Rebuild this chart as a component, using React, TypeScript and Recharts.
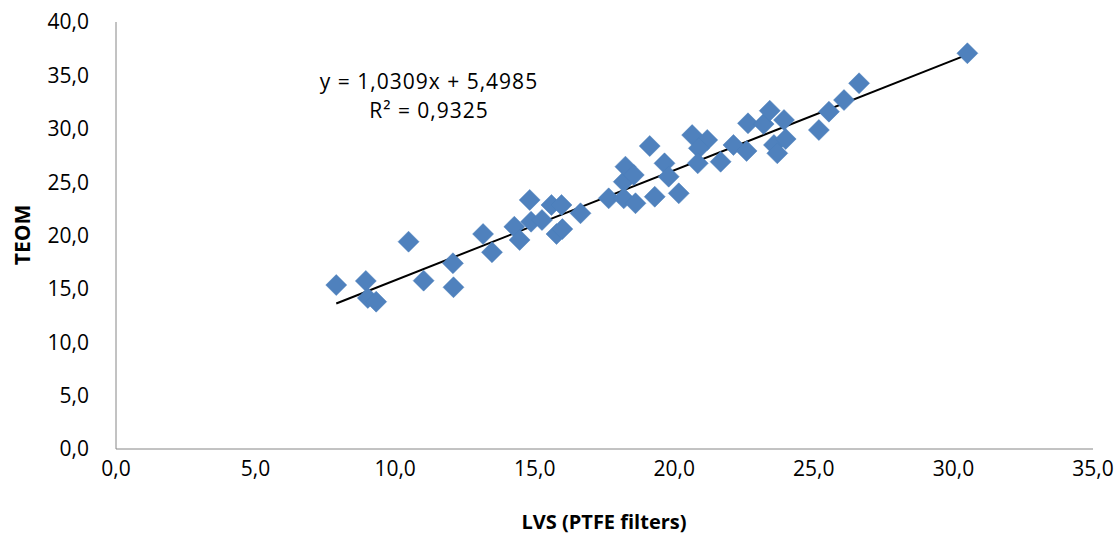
import {
  ScatterChart,
  Scatter,
  XAxis,
  YAxis,
  ReferenceLine,
} from "recharts";

// LVS (PTFE filters) vs TEOM
const lvs = [
  7.89, 8.95, 9.02, 9.32, 10.48, 11.02, 12.07, 12.09, 13.15, 13.47,
  14.27, 14.46, 14.82, 14.87, 15.26, 15.6, 15.96, 15.78, 15.99, 16.64,
  17.65, 18.19, 18.25, 18.55, 18.19, 18.61, 19.12, 19.3, 19.65, 19.8,
  20.16, 20.64, 21.18, 20.88, 20.84, 21.66, 22.12, 22.59, 22.64, 23.2,
  23.42, 23.93, 23.57, 23.99, 23.69, 25.18, 25.54, 26.08, 26.62, 30.5,
];
const teom = [
  15.36, 15.74, 14.15, 13.8, 19.42, 15.77, 17.4, 15.15, 20.14, 18.43,
  20.82, 19.58, 23.33, 21.29, 21.45, 22.86, 22.86, 20.14, 20.6, 22.08,
  23.48, 25.04, 26.45, 25.67, 23.48, 23.02, 28.38, 23.63, 26.76, 25.51,
  23.95, 29.41, 28.95, 28.17, 26.76, 26.91, 28.48, 27.92, 30.51, 30.44,
  31.69, 30.82, 28.48, 29.04, 27.7, 29.88, 31.6, 32.69, 34.26, 37.07,
];
const xTicks = [0, 5, 10, 15, 20, 25, 30, 35];
const yTicks = [0, 5, 10, 15, 20, 25, 30, 35, 40];

// linear fit shown on the chart
const slope = 1.0309;
const intercept = 5.4985;
const rSquared = 0.9325;

const data = lvs.map((x, i) => ({ x, y: teom[i] }));
const xMin = Math.min(...lvs);
const xMax = Math.max(...lvs);

const fmt = (v: number, d = 1) => v.toFixed(d).replace(".", ",");
const font = "'Open Sans', sans-serif";
const tickStyle = { fontSize: 21, fill: "#000", fontFamily: font };

const Diamond = (props: any) => {
  const { cx, cy } = props;
  const r = 10.5;
  return (
    <polygon
      points={`${cx},${cy - r} ${cx + r},${cy} ${cx},${cy + r} ${cx - r},${cy}`}
      fill="#4F81BD"
      stroke="#4A7EBB"
      strokeWidth={0.5}
    />
  );
};

export default function App() {
  return (
    <div style={{ position: "relative", width: 1118, height: 535 }}>
      <style>{`body{margin:0}`}</style>
      <ScatterChart
        width={1118}
        height={535}
        margin={{ top: 22, right: 25, left: 0, bottom: 0 }}
      >
        <XAxis
          type="number"
          dataKey="x"
          domain={[0, 35]}
          ticks={xTicks}
          tickFormatter={(v) => fmt(v)}
          tick={tickStyle}
          tickLine={false}
          tickSize={0}
          tickMargin={12}
          height={86}
          stroke="#868686"
          label={{
            content: () => (
              <text
                x={604}
                y={521}
                textAnchor="middle"
                dominantBaseline="central"
                fontFamily={font}
                fontWeight="bold"
                fontSize={20}
              >
                LVS (PTFE filters)
              </text>
            ),
          }}
        />
        <YAxis
          type="number"
          dataKey="y"
          domain={[0, 40]}
          ticks={yTicks}
          tickFormatter={(v) => fmt(v)}
          tick={tickStyle}
          tickLine={false}
          tickSize={0}
          tickMargin={27}
          width={116}
          stroke="#868686"
          label={{
            content: () => (
              <text
                x={22}
                y={235}
                transform="rotate(-90 22 235)"
                textAnchor="middle"
                dominantBaseline="central"
                fontFamily={font}
                fontWeight="bold"
                fontSize={21}
              >
                TEOM
              </text>
            ),
          }}
        />
        <Scatter
          data={data}
          shape={Diamond}
          isAnimationActive={false}
        />
        <ReferenceLine
          segment={[
            { x: xMin, y: slope * xMin + intercept },
            { x: xMax, y: slope * xMax + intercept },
          ]}
          stroke="#000"
          strokeWidth={2}
        />
      </ScatterChart>
      <div
        style={{
          position: "absolute",
          left: 309,
          top: 67,
          width: 240,
          textAlign: "center",
          fontFamily: font,
          fontSize: 21,
          letterSpacing: 1,
          lineHeight: "29px",
          color: "#000",
        }}
      >
        <div>{`y = ${fmt(slope, 4)}x + ${fmt(intercept, 4)}`}</div>
        <div>{`R² = ${fmt(rSquared, 4)}`}</div>
      </div>
    </div>
  );
}
